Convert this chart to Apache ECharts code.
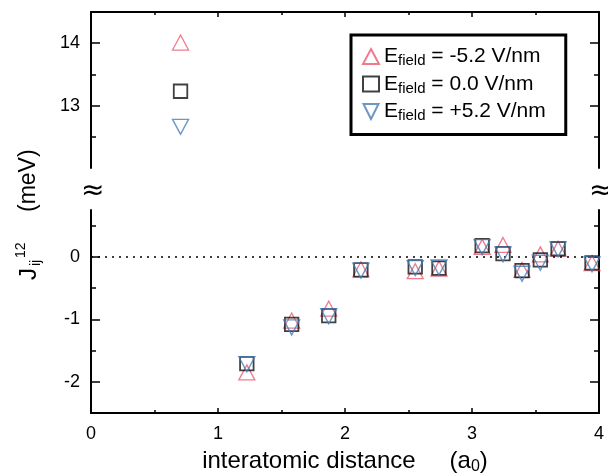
<!DOCTYPE html>
<html>
<head>
<meta charset="utf-8">
<script src="https://cdn.jsdelivr.net/npm/echarts@6/dist/echarts.min.js"></script>
<style>
  html, body { margin: 0; padding: 0; background: #fff; }
  #main { width: 608px; height: 476px; }
</style>
</head>
<body>
<div id="main"></div>
<script>
var chart = echarts.init(document.getElementById('main'));

// interatomic distance (a0) and J_ij^12 (meV) for the three fields
var distance = [0.705, 1.227, 1.58, 1.872, 2.125, 2.553, 2.74, 3.08, 3.244, 3.394, 3.538, 3.678, 3.945];
var eNeg  = [14.01, -1.85, -1.02, -0.83, -0.20, -0.23, -0.19, 0.16, 0.19, -0.21, 0.04, 0.13, -0.10];
var eZero = [13.23, -1.71, -1.08, -0.94, -0.21, -0.16, -0.18, 0.18, 0.05, -0.22, -0.05, 0.13, -0.095];
var ePos  = [12.66, -1.72, -1.13, -0.95, -0.22, -0.18, -0.17, 0.155, 0.04, -0.27, -0.095, 0.12, -0.12];
var fieldNames = ['-5.2 V/nm', '0.0 V/nm', '+5.2 V/nm'];

var xTicks = [0, 1, 2, 3, 4];
var topMajor = [13, 14], topMinor = [12.5, 13.5];
var lowMajor = [-2, -1, 0], lowMinor = [-2.5, -1.5, -0.5, 0.5];

var FONT = 'Liberation Sans';
var RED = '#ea5b6f', BLUE = '#4a7cb6', BLACK = '#111';

function pick(values, top) {
  var out = [];
  for (var i = 0; i < distance.length; i++) {
    if ((values[i] > 5) === top) out.push([distance[i], values[i]]);
  }
  return out;
}

function yPair(grid, min, max, major, minor, pos, labels) {
  return [{
    type: 'value', gridIndex: grid, position: pos, min: min, max: max,
    axisLine: { show: true, onZero: false, lineStyle: { color: '#000', width: 2 } },
    axisTick: { inside: true, length: 9, customValues: major, lineStyle: { color: '#000', width: 1.5 } },
    axisLabel: { show: labels, customValues: major, margin: 11, color: '#000', fontSize: 18, fontFamily: FONT },
    splitLine: { show: false }
  }, {
    type: 'value', gridIndex: grid, position: pos, min: min, max: max,
    axisLine: { show: false, onZero: false },
    axisTick: { show: true, inside: true, length: 5, customValues: minor, lineStyle: { color: '#000', width: 1.5 } },
    axisLabel: { show: false },
    splitLine: { show: false }
  }];
}

var yAxes = [].concat(
  yPair(0, 12, 14.5, topMajor, topMinor, 'left', true),
  yPair(0, 12, 14.5, topMajor, topMinor, 'right', false),
  yPair(1, -2.5, 0.75, lowMajor, lowMinor, 'left', true),
  yPair(1, -2.5, 0.75, lowMajor, lowMinor, 'right', false)
);

var xBase = {
  type: 'value', min: 0, max: 4, interval: 1,
  axisLine: { show: true, onZero: false, lineStyle: { color: '#000', width: 2 } },
  axisTick: { inside: true, length: 5, lineStyle: { color: '#000', width: 1.5 } },
  minorTick: { show: true, splitNumber: 2, length: 3, lineStyle: { color: '#000', width: 1.5 } },
  splitLine: { show: false }
};

var symbols = ['triangle', 'rect', 'path://M0,0L10,0L5,10Z'];
var colors = [RED, BLACK, BLUE];
var sizes = [[16, 15], 13.5, [16, 15]];
var widths = [1.3, 1.8, 1.4];
var sets = [eNeg, eZero, ePos];

var series = [];
for (var k = 0; k < 3; k++) {
  for (var p = 0; p < 2; p++) {
    var s = {
      name: fieldNames[k], type: 'scatter',
      xAxisIndex: p, yAxisIndex: p === 0 ? 0 : 4,
      data: pick(sets[k], p === 0),
      symbol: symbols[k], symbolSize: sizes[k],
      itemStyle: { color: 'rgba(0,0,0,0)', borderColor: colors[k], borderWidth: widths[k] },
      emphasis: { disabled: true },
      z: 3 + k
    };
    if (k === 0 && p === 1) {
      s.markLine = {
        silent: true, symbol: 'none', label: { show: false },
        lineStyle: { color: '#000', type: [2, 5], width: 1.5 },
        data: [{ yAxis: 0 }]
      };
    }
    series.push(s);
  }
}

var option = {
  animation: false,
  grid: [
    { left: 91, right: 9, top: 12, height: 156 },
    { left: 91, right: 9, top: 210, height: 203 }
  ],
  xAxis: [
    Object.assign({}, xBase, { gridIndex: 0, position: 'top', axisLabel: { show: false } }),
    Object.assign({}, xBase, {
      gridIndex: 1, position: 'bottom',
      axisLabel: { customValues: xTicks, margin: 12, color: '#000', fontSize: 18, fontFamily: FONT },
      name: '{m|interatomic distance}{g|}{m|(a}{s|0}{m|)}',
      nameLocation: 'middle', nameGap: 34,
      nameTextStyle: {
        rich: {
          m: { fontSize: 24, fontFamily: FONT, color: '#000', lineHeight: 28, verticalAlign: 'middle' },
          g: { width: 34 },
          s: { fontSize: 16, fontFamily: FONT, color: '#000', verticalAlign: 'bottom', lineHeight: 16 }
        }
      }
    })
  ],
  yAxis: yAxes,
  legend: {
    orient: 'vertical', left: 351, top: 35,
    padding: [11, 20, 11, 11], itemGap: 5,
    itemWidth: 16, itemHeight: 15,
    borderColor: '#000', borderWidth: 3, borderRadius: 0,
    data: fieldNames,
    selectedMode: false,
    formatter: function (name) { return '{e|E}{s|field}{t| = ' + name + '}'; },
    textStyle: {
      rich: {
        e: { fontSize: 21, fontFamily: FONT, color: '#000', lineHeight: 24, verticalAlign: 'middle' },
        s: { fontSize: 15, fontFamily: FONT, color: '#000', lineHeight: 15, verticalAlign: 'bottom' },
        t: { fontSize: 21, fontFamily: FONT, color: '#000', lineHeight: 24, verticalAlign: 'middle' }
      }
    }
  },
  graphic: [
    { type: 'text', left: 81, top: 178, style: { text: '≈', fontSize: 28, fontFamily: 'DejaVu Sans', fill: '#000' } },
    { type: 'text', left: 589, top: 178, style: { text: '≈', fontSize: 28, fontFamily: 'DejaVu Sans', fill: '#000' } },
    {
      type: 'group', x: 37, y: 280, rotation: Math.PI / 2,
      children: [
        { type: 'text', x: 0, y: -8, style: { text: 'J', fontSize: 24, fontFamily: FONT, fill: '#000', verticalAlign: 'middle' } },
        { type: 'text', x: 14, y: -1, style: { text: 'ij', fontSize: 14, fontFamily: FONT, fill: '#000', verticalAlign: 'middle' } },
        { type: 'text', x: 22, y: -16, style: { text: '12', fontSize: 14, fontFamily: FONT, fill: '#000', verticalAlign: 'middle' } },
        { type: 'text', x: 68, y: -8, style: { text: '(meV)', fontSize: 23, fontFamily: FONT, fill: '#000', verticalAlign: 'middle' } }
      ]
    }
  ],
  series: series
};

chart.setOption(option);
</script>
</body>
</html>
